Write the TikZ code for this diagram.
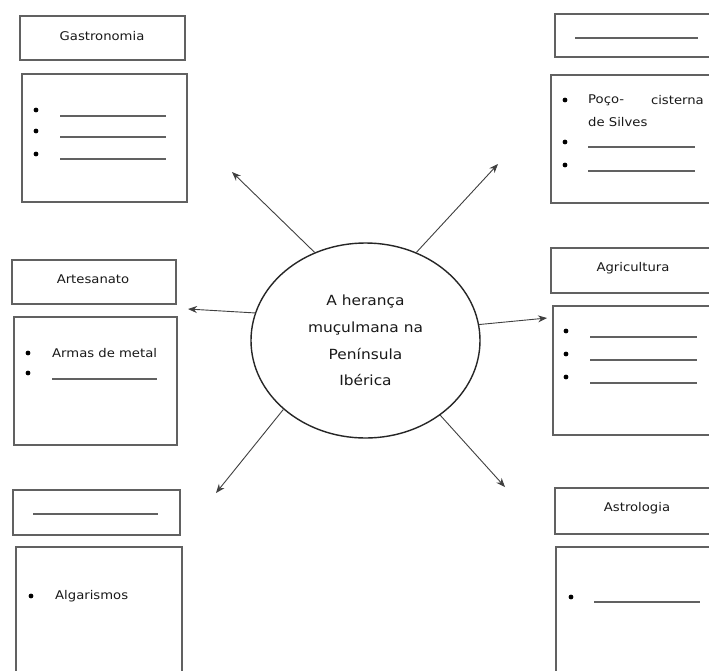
\documentclass[tikz,border=0pt]{standalone}
\usepackage{fontspec}
\setmainfont[FakeStretch=1.1]{DejaVu Sans}
\usetikzlibrary{shapes.geometric,arrows.meta}
\begin{document}
\begin{tikzpicture}[x=1pt,y=-1pt,
  box/.style={draw=black!62, line width=1.1pt, rectangle, inner sep=0pt},
  lbl/.style={font=\fontsize{12}{14}\selectfont, text=black!90, inner sep=0pt},
  blank/.style={draw=black!62, line width=1.1pt},
  arr/.style={draw=black!75, line width=0.9pt, -{Stealth[length=9pt,width=7pt]}},
  dot/.style={fill=black}]
\useasboundingbox (0,0) rectangle (709,670);
\fill[white] (0,0) rectangle (709,670);
\clip (0,0) rectangle (709,670);

% ---------- centre ----------
\node[ellipse, draw=black!85, line width=1.4pt, minimum width=229pt, minimum height=195pt,
      align=center, font=\fontsize{14}{26.7}\selectfont, text=black!90] (ell) at (365.5,340.5)
      {A herança\\muçulmana na\\Península\\Ibérica};

% ---------- top left: Gastronomia ----------
\node[box, minimum width=165pt, minimum height=44pt] (t1) at (102.5,38) {};
\node[lbl] (l1) at (102,36) {Gastronomia};
\node[box, minimum width=165pt, minimum height=128pt] (c1) at (104.5,138) {};
\foreach \y/\ly in {110/116,131/137,154/159}{
  \fill[dot] (36,\y) circle (2.4pt);
  \draw[blank] (60,\ly) -- (166,\ly);
}

% ---------- top right ----------
\node[box, minimum width=162pt, minimum height=43pt] (t2) at (636,35.5) {};
\draw[blank] (575,38) -- (698,38);
\node[box, minimum width=166pt, minimum height=128pt] (c2) at (634,139) {};
\fill[dot] (565,100) circle (2.4pt);
\fill[dot] (565,142) circle (2.4pt);
\fill[dot] (565,165) circle (2.4pt);
\node[lbl, anchor=west] (p1) at (588,100) {Poço-};
\node[lbl, anchor=east] (p2) at (704,100) {cisterna};
\node[lbl, anchor=west] (p3) at (588,122) {de Silves};
\draw[blank] (588,147) -- (695,147);
\draw[blank] (588,171) -- (695,171);

% ---------- middle left: Artesanato ----------
\node[box, minimum width=164pt, minimum height=44pt] (t3) at (94,282) {};
\node[lbl] (l3) at (93,279) {Artesanato};
\node[box, minimum width=163pt, minimum height=128pt] (c3) at (95.5,381) {};
\fill[dot] (28,353) circle (2.4pt);
\fill[dot] (28,373) circle (2.4pt);
\node[lbl, anchor=west] (a1) at (52,353) {Armas de metal};
\draw[blank] (52,379) -- (157,379);

% ---------- middle right: Agricultura ----------
\node[box, minimum width=166pt, minimum height=45pt] (t4) at (634,270.5) {};
\node[lbl] (l4) at (633,268) {Agricultura};
\node[box, minimum width=164pt, minimum height=129pt] (c4) at (635,370.5) {};
\foreach \y/\ly in {331/337,354/360,377/383}{
  \fill[dot] (566,\y) circle (2.4pt);
  \draw[blank] (590,\ly) -- (697,\ly);
}

% ---------- bottom left ----------
\node[box, minimum width=167pt, minimum height=45pt] (t5) at (96.5,512.5) {};
\draw[blank] (33,514) -- (158,514);
\node[box, minimum width=166pt, minimum height=143pt] (c5) at (99,618.5) {};
\fill[dot] (31,596) circle (2.4pt);
\node[lbl, anchor=west] (g1) at (55,596) {Algarismos};

% ---------- bottom right: Astrologia ----------
\node[box, minimum width=162pt, minimum height=46pt] (t6) at (636,511) {};
\node[lbl] (l6) at (637,508) {Astrologia};
\node[box, minimum width=161pt, minimum height=143pt] (c6) at (636.5,618.5) {};
\fill[dot] (571,597) circle (2.4pt);
\draw[blank] (594,602) -- (700,602);

% ---------- arrows ----------
\coordinate (tNW) at (232,172);
\coordinate (tNE) at (498,164);
\coordinate (tW) at (188,309);
\coordinate (tE) at (547,318);
\coordinate (tSW) at (216,493);
\coordinate (tSE) at (505,487);
\draw[arr] (ell.120) -- (tNW);
\draw[arr] (ell.60) -- (tNE);
\draw[arr] (ell.166) -- (tW);
\draw[arr] (ell.8.7) -- (tE);
\draw[arr] (ell.220) -- (tSW);
\draw[arr] (ell.315) -- (tSE);
\end{tikzpicture}
\end{document}
